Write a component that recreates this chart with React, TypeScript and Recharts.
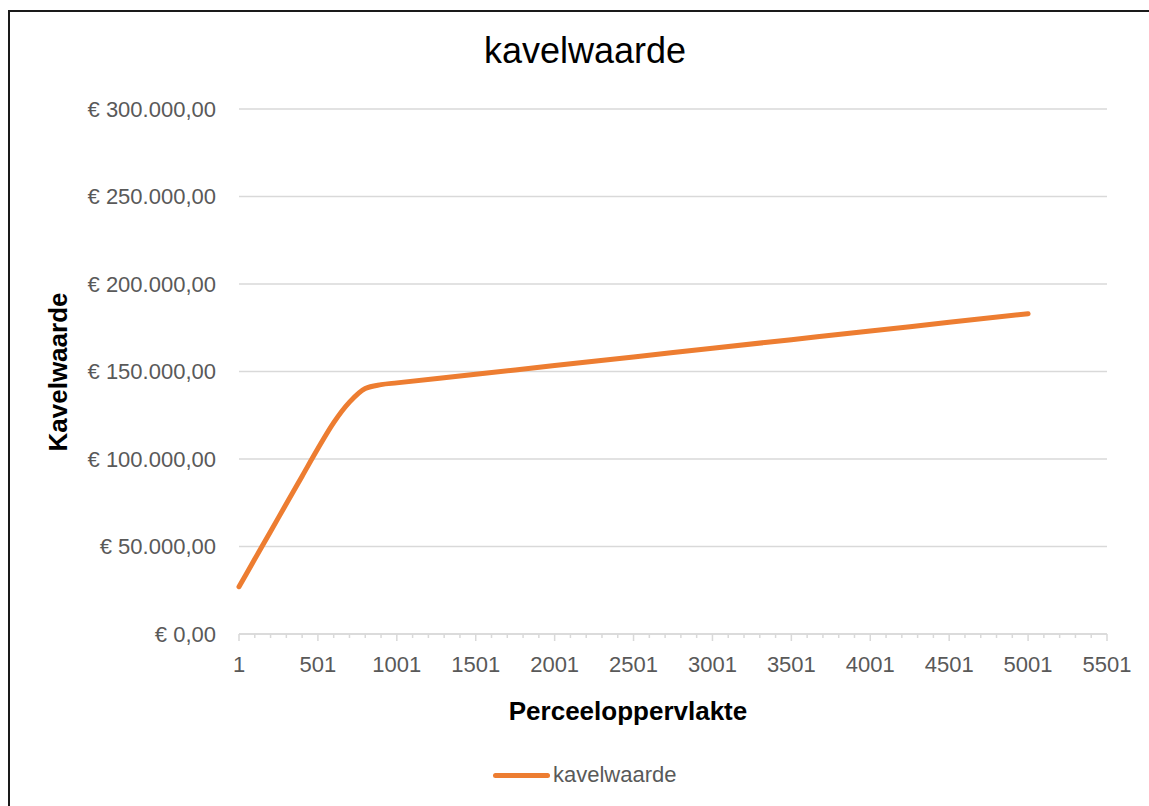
import { LineChart, Line, XAxis, YAxis, CartesianGrid } from 'recharts'

// perceeloppervlakte (m2) en kavelwaarde (EUR)
const areas = [1, 101, 201, 301, 401, 501, 601, 701, 801, 901, 1001, 1501, 2001, 2501, 3001, 3501, 4001, 4501, 5001]
const values = [27000, 42800, 58600, 74400, 90200, 106000, 120800, 132500, 140300, 142500, 143500, 148400, 153400, 158300, 163300, 168200, 173100, 178100, 183000]

const yTicks = [0, 50000, 100000, 150000, 200000, 250000, 300000]
const xMajorTicks = [1, 501, 1001, 1501, 2001, 2501, 3001, 3501, 4001, 4501, 5001, 5501]
const xTicks = Array.from({ length: 56 }, (_, i) => 1 + i * 100)

const data = areas.map((a, i) => ({ area: a, kavelwaarde: values[i] }))

const FONT = "'Liberation Sans', Arial, sans-serif"
const ORANGE = '#ED7D31'
const GRID = '#D9D9D9'
const TEXT = '#595959'

function formatEuro(v: number): string {
  const s = Math.round(v).toString().replace(/\B(?=(\d{3})+(?!\d))/g, '.')
  return `€ ${s},00`
}

function AreaTick({ x, y, payload }: { x?: number; y?: number; payload?: { value: number } }) {
  if (x == null || y == null || !payload) return null
  const major = xMajorTicks.includes(payload.value)
  return (
    <g>
      <line x1={x} x2={x} y1={y} y2={y + (major ? 7 : 4)} stroke={GRID} strokeWidth={1.5} />
      {major && (
        <text x={x} y={y + 38} textAnchor="middle" fill={TEXT} fontSize={22} fontFamily={FONT}>
          {payload.value}
        </text>
      )}
    </g>
  )
}

export default function App() {
  return (
    <div style={{ position: 'absolute', left: 0, top: 0, width: 1149, height: 806, overflow: 'hidden', background: '#fff', fontFamily: FONT }}>
      <div style={{ position: 'absolute', left: 8, top: 10, width: 1300, height: 1000, border: '2px solid #1a1a1a' }} />
      <div style={{ position: 'absolute', left: 0, top: 0 }}>
        <LineChart width={1149} height={806} data={data} margin={{ top: 109, right: 42, bottom: 132, left: 0 }}>
          <CartesianGrid vertical={false} stroke={GRID} strokeWidth={1.5} />
          <XAxis
            dataKey="area"
            type="number"
            domain={[1, 5501]}
            ticks={xTicks}
            interval={0}
            height={40}
            tickSize={0}
            tickMargin={0}
            tickLine={false}
            axisLine={{ stroke: GRID, strokeWidth: 1.5 }}
            tick={<AreaTick />}
          />
          <YAxis
            width={239}
            domain={[0, 300000]}
            ticks={yTicks}
            tickFormatter={formatEuro}
            tickSize={0}
            tickMargin={23}
            tickLine={false}
            axisLine={false}
            tick={{ fill: TEXT, fontSize: 22, fontFamily: FONT }}
          />
          <Line
            type="monotone"
            dataKey="kavelwaarde"
            stroke={ORANGE}
            strokeWidth={5}
            strokeLinecap="round"
            dot={false}
            isAnimationActive={false}
          />
        </LineChart>
      </div>
      <div style={{ position: 'absolute', left: 385, width: 400, top: 30, textAlign: 'center', fontSize: 36, color: '#000' }}>
        kavelwaarde
      </div>
      <div style={{ position: 'absolute', left: 428, width: 400, top: 696, textAlign: 'center', fontSize: 26, fontWeight: 'bold', color: '#000' }}>
        Perceeloppervlakte
      </div>
      <div
        style={{
          position: 'absolute',
          left: 58 - 100,
          top: 372 - 15,
          width: 200,
          height: 30,
          lineHeight: '30px',
          textAlign: 'center',
          fontSize: 26,
          fontWeight: 'bold',
          color: '#000',
          transform: 'rotate(-90deg)',
        }}
      >
        Kavelwaarde
      </div>
      <div style={{ position: 'absolute', left: 493, top: 761, display: 'flex', alignItems: 'center', height: 28 }}>
        <div style={{ width: 57, height: 5, borderRadius: 3, background: ORANGE }} />
        <span style={{ marginLeft: 3, fontSize: 22, color: TEXT }}>kavelwaarde</span>
      </div>
    </div>
  )
}
